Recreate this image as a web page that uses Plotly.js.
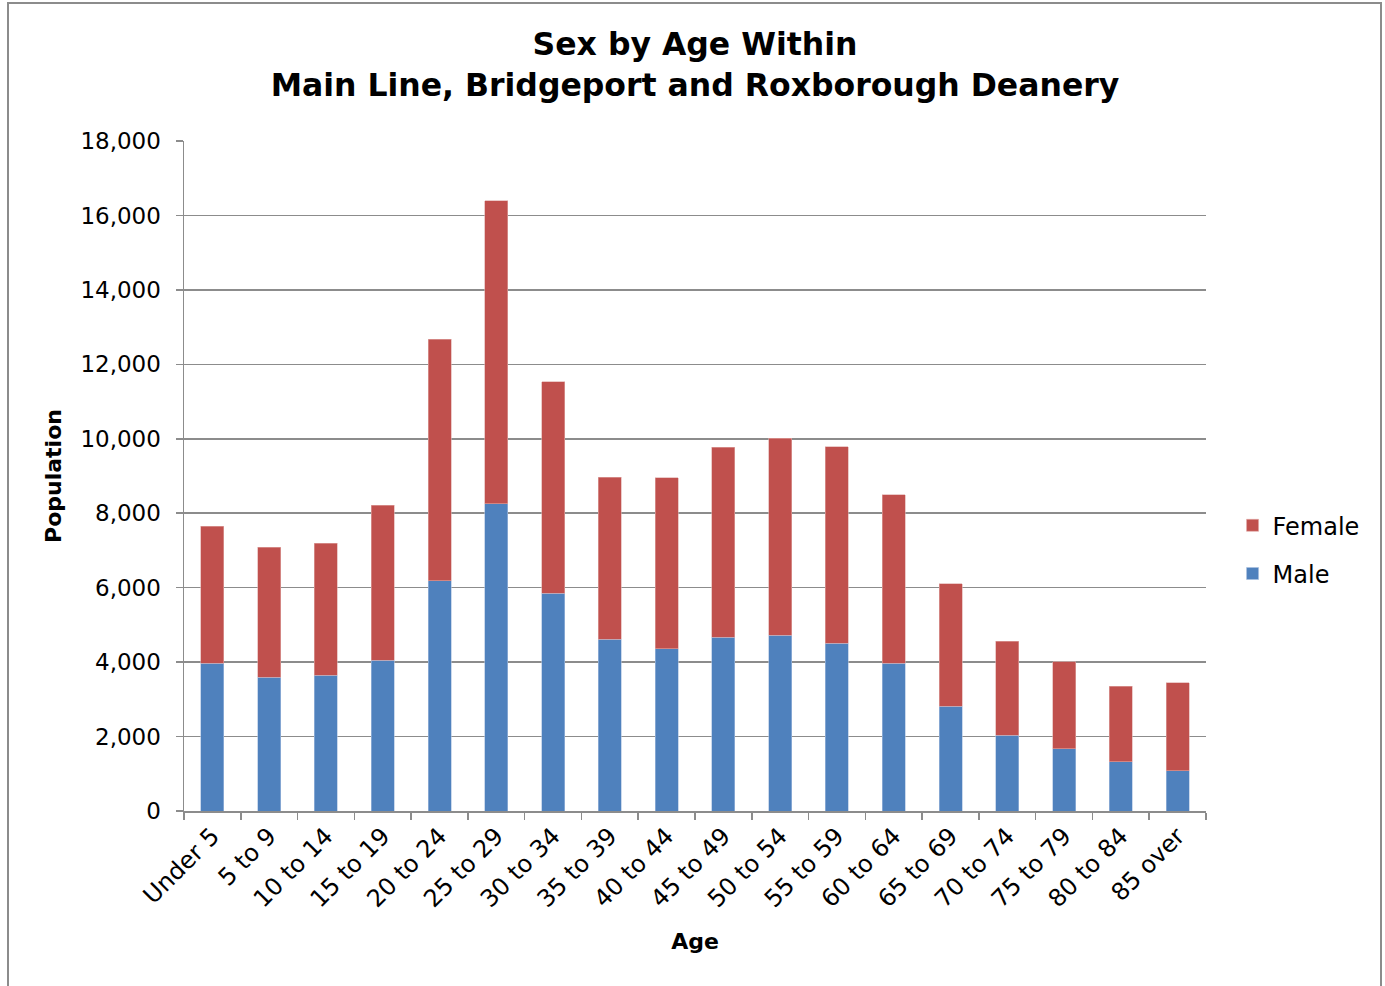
<!DOCTYPE html>
<html>
<head>
<meta charset="utf-8">
<script src="https://cdn.plot.ly/plotly-3.0.1.min.js"></script>
<style>
  html, body { margin: 0; padding: 0; background: #ffffff; }
  #frame { position: absolute; left: 7px; top: 2px; width: 1375px; height: 1000px; border: 2px solid #8c8c8c; box-sizing: border-box; }
  #chart { position: absolute; left: 0; top: 0; width: 1385px; height: 986px; }
</style>
</head>
<body>
<div id="frame"></div>
<div id="chart"></div>
<script>
const ageGroups = ["Under 5", "5 to 9", "10 to 14", "15 to 19", "20 to 24", "25 to 29", "30 to 34", "35 to 39", "40 to 44", "45 to 49", "50 to 54", "55 to 59", "60 to 64", "65 to 69", "70 to 74", "75 to 79", "80 to 84", "85 over"];
const maleValues = [3970, 3590, 3650, 4050, 6180, 8250, 5850, 4620, 4360, 4670, 4720, 4510, 3970, 2820, 2030, 1670, 1320, 1080];
const femaleValues = [3680, 3500, 3550, 4160, 6500, 8150, 5680, 4350, 4590, 5100, 5300, 5280, 4520, 3280, 2530, 2340, 2030, 2360];
const yTickValues = [0, 2000, 4000, 6000, 8000, 10000, 12000, 14000, 16000, 18000];

const FONT = "DejaVu Sans, Verdana, sans-serif";

const traces = [
  { type: "bar", name: "Male", x: ageGroups, y: maleValues, legendgroup: "m", legendrank: 2,
    marker: { color: "#4F81BD", line: { color: "#a9c0df", width: 0.6 } }, hoverinfo: "x+y+name" },
  { type: "bar", name: "Female", x: ageGroups, y: femaleValues, legendgroup: "f", legendrank: 1,
    marker: { color: "#C0504D", line: { color: "#e0a8a6", width: 0.6 } }, hoverinfo: "x+y+name" }
];

const layout = {
  width: 1385, height: 986,
  paper_bgcolor: "rgba(0,0,0,0)", plot_bgcolor: "rgba(0,0,0,0)",
  margin: { l: 184, r: 179, t: 141, b: 175, autoexpand: false },
  barmode: "stack", bargap: 0.595,
  font: { family: FONT, color: "#000000", size: 22 },
  title: {
    text: "<b>Sex by Age Within<br>Main Line, Bridgeport and Roxborough Deanery</b>",
    font: { family: FONT, size: 31.5, color: "#000000" },
    x: 0.5, xref: "paper", xanchor: "center",
    y: 0.944, yref: "container", yanchor: "top"
  },
  xaxis: {
    type: "category", automargin: false,
    tickangle: -45, tickson: "boundaries", ticks: "outside", ticklen: 7, tickcolor: "#8c8c8c", tickwidth: 1.5,
    showline: true, linecolor: "#8c8c8c", linewidth: 1.5, showgrid: false,
    tickfont: { family: FONT, size: 24, color: "#000000" },
    title: { text: "<b>Age</b>", font: { family: FONT, size: 22, color: "#000000" }, standoff: 21 }
  },
  yaxis: {
    range: [0, 18000], tickvals: yTickValues, tickformat: ",d", automargin: false,
    ticks: "outside", ticklen: 7, tickcolor: "#8c8c8c", tickwidth: 1.5,
    showline: true, linecolor: "#8c8c8c", linewidth: 1.5,
    showgrid: true, gridcolor: "#8c8c8c", gridwidth: 1.5, zeroline: false,
    ticklabelstandoff: 10,
    tickfont: { family: FONT, size: 23, color: "#000000" },
    title: { text: "<b>Population</b>", font: { family: FONT, size: 22, color: "#000000" }, standoff: 12 }
  },
  legend: {
    x: 1.026, xanchor: "left", y: 0.39, yanchor: "middle",
    traceorder: "grouped", tracegroupgap: 14,
    font: { family: FONT, size: 24, color: "#000000" },
    bgcolor: "rgba(0,0,0,0)", itemwidth: 30
  },
  showlegend: true
};

Plotly.newPlot("chart", traces, layout, { displayModeBar: false, staticPlot: true });
</script>
</body>
</html>
